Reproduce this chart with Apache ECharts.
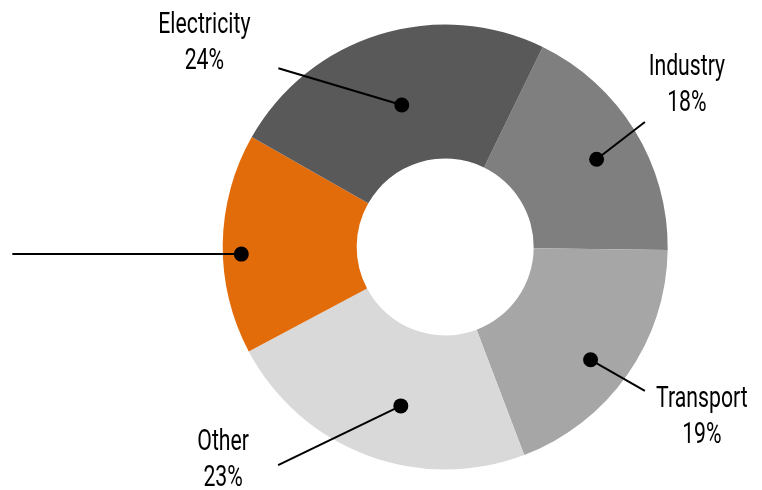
<!DOCTYPE html>
<html><head><meta charset="utf-8">
<script src="https://cdn.jsdelivr.net/npm/echarts@6/dist/echarts.min.js"></script>
<style>html,body{margin:0;padding:0;background:#fff}#c{width:762px;height:490px}</style>
</head><body><div id="c"></div>
<script>
// ---- data ----
const categories = ['Industry', 'Transport', 'Other', '', 'Electricity'];
const values = [18, 19, 23, 16, 24];
const colors = ['#7f7f7f', '#a6a6a6', '#d9d9d9', '#e36c0a', '#595959'];

// ---- layout (annotation geometry, not data) ----
const CX = 445.2, CY = 247, R0 = 88.5, R1 = 222.5, START = 64;
const dotRadius = [175, 184, 165, 204, 148.5];
const dotAngleShift = [-1.5, -2.8, 5, 2.8, -0.2];
const lineVec = [[48.3, -37.3], [54.3, 31], [-122.7, 59.3], [-229, 0], [-123.4, -36.7]];
const labelVec = [[42, -36.5], [57, 26.5], [-55, -4.5], [0, 0], [-74, -24.5]];

const total = values.reduce((a, b) => a + b, 0);
let cum = 0;
const midAngles = values.map(v => { const m = START - 360 * (cum + v / 2) / total; cum += v; return m; });
const dotAngles = midAngles.map((m, i) => m + dotAngleShift[i]);
const dotPx = dotAngles.map((a, i) => {
  const t = a * Math.PI / 180;
  return [CX + dotRadius[i] * Math.cos(t), CY - dotRadius[i] * Math.sin(t)];
});
const endPx = dotPx.map((d, i) => [d[0] + lineVec[i][0], d[1] + lineVec[i][1]]);
const norm = a => ((a % 360) + 360) % 360;

const pieData = values.map((v, i) => ({ name: categories[i], value: v, itemStyle: { color: colors[i] } }));

const textEls = categories.map((c, i) => c ? {
  type: 'text',
  x: endPx[i][0] + labelVec[i][0],
  y: endPx[i][1] + labelVec[i][1],
  scaleX: 0.72,
  z: 20,
  silent: true,
  style: {
    text: c + '\n' + Math.round(values[i] / total * 100) + '%',
    fontFamily: 'Roboto',
    fontSize: 29.5,
    lineHeight: 36,
    fill: '#000',
    align: 'center',
    verticalAlign: 'middle'
  }
} : null).filter(Boolean);

const chart = echarts.init(document.getElementById('c'), null, { renderer: 'canvas' });
chart.setOption({
  animation: false,
  backgroundColor: '#ffffff',
  polar: { center: [CX, CY], radius: [0, R1] },
  radiusAxis: { type: 'value', min: 0, max: R1, show: false },
  angleAxis: { type: 'value', min: 0, max: 360, startAngle: 0, clockwise: false, show: false },
  graphic: textEls,
  series: [
    {
      type: 'pie',
      z: 2,
      center: [CX, CY],
      radius: [R0, R1],
      startAngle: START,
      clockwise: true,
      silent: true,
      data: pieData,
      itemStyle: { borderWidth: 0 },
      label: { show: false },
      labelLine: { show: false }
    },
    {
      // transparent overlay that carries the leader lines above the ring
      type: 'pie',
      z: 5,
      center: [CX, CY],
      radius: [R0, R1],
      startAngle: START,
      clockwise: true,
      avoidLabelOverlap: false,
      silent: true,
      data: pieData.map(d => ({ name: d.name, value: d.value })),
      itemStyle: { color: 'rgba(0,0,0,0)', borderWidth: 0 },
      label: { show: true, position: 'outside', formatter: ' ', fontSize: 1 },
      labelLine: { show: true, length: 10, length2: 10, smooth: false, lineStyle: { color: '#000', width: 2 } },
      labelLayout: function (params) {
        const i = params.dataIndex;
        const d = dotPx[i], e = endPx[i];
        return {
          x: e[0], y: e[1],
          hideOverlap: false,
          labelLinePoints: [[d[0], d[1]], [e[0], e[1]], [e[0], e[1]]]
        };
      }
    },
    {
      type: 'scatter',
      coordinateSystem: 'polar',
      symbol: 'circle',
      symbolSize: 15,
      silent: true,
      z: 10,
      itemStyle: { color: '#000', opacity: 1 },
      data: dotAngles.map((a, i) => [dotRadius[i], norm(a)])
    }
  ]
});
</script></body></html>
